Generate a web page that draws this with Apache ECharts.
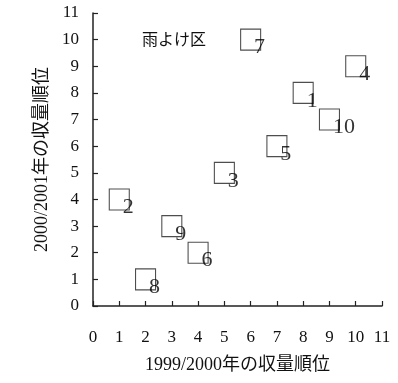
<!DOCTYPE html>
<html>
<head>
<meta charset="utf-8">
<script src="https://cdn.jsdelivr.net/npm/echarts@6/dist/echarts.min.js"></script>
<style>
  html, body { margin: 0; padding: 0; background: #fff; }
  #chart { width: 398px; height: 383px; }
</style>
</head>
<body>
<div id="chart"></div>
<script>
// 品種番号と順位
const ids = ["1", "2", "3", "4", "5", "6", "7", "8", "9", "10"];
const rank1999 = [8, 1, 5, 10, 7, 4, 6, 2, 3, 9];
const rank2000 = [8, 4, 5, 9, 6, 2, 10, 1, 3, 7];
const ticks = [0, 1, 2, 3, 4, 5, 6, 7, 8, 9, 10, 11];

const font = '"Liberation Serif", "Noto Sans CJK JP", serif';
const axisColor = "#222";
const textColor = "#111";

const chart = echarts.init(document.getElementById("chart"));

const axisCommon = {
  type: "value",
  min: ticks[0],
  max: ticks[ticks.length - 1],
  interval: 1,
  nameLocation: "middle",
  nameTextStyle: { fontFamily: font, fontSize: 18, color: textColor },
  axisLine: { show: true, lineStyle: { color: axisColor, width: 1.5 } },
  axisTick: { show: true, inside: true, length: 5, lineStyle: { color: axisColor, width: 1.2 } },
  splitLine: { show: false },
  axisLabel: { fontFamily: font, fontSize: 17, color: textColor, showMinLabel: true, showMaxLabel: true }
};

chart.setOption({
  backgroundColor: "#fff",
  animation: false,
  grid: { left: 93, right: 16, top: 13, bottom: 77 },
  title: {
    text: "雨よけ区",
    left: 137,
    top: 28,
    textStyle: { fontFamily: font, fontSize: 16, fontWeight: "normal", color: textColor }
  },
  xAxis: Object.assign({}, axisCommon, {
    name: "1999/2000年の収量順位",
    nameGap: 50,
    axisLabel: Object.assign({}, axisCommon.axisLabel, { margin: 23 })
  }),
  yAxis: Object.assign({}, axisCommon, {
    name: "2000/2001年の収量順位",
    nameGap: 42,
    axisLabel: Object.assign({}, axisCommon.axisLabel, { margin: 14 })
  }),
  series: [
    {
      type: "scatter",
      symbol: "rect",
      symbolSize: [20, 21],
      itemStyle: { color: "rgba(255,255,255,0)", borderColor: "#222", borderWidth: 1.1 },
      data: ids.map((id, i) => ({ value: [rank1999[i], rank2000[i]], name: id })),
      label: {
        show: true,
        position: [14, 19],
        align: "left",
        verticalAlign: "middle",
        formatter: p => p.name,
        fontFamily: font,
        fontSize: 22,
        color: "#000"
      }
    }
  ]
});
</script>
</body>
</html>
